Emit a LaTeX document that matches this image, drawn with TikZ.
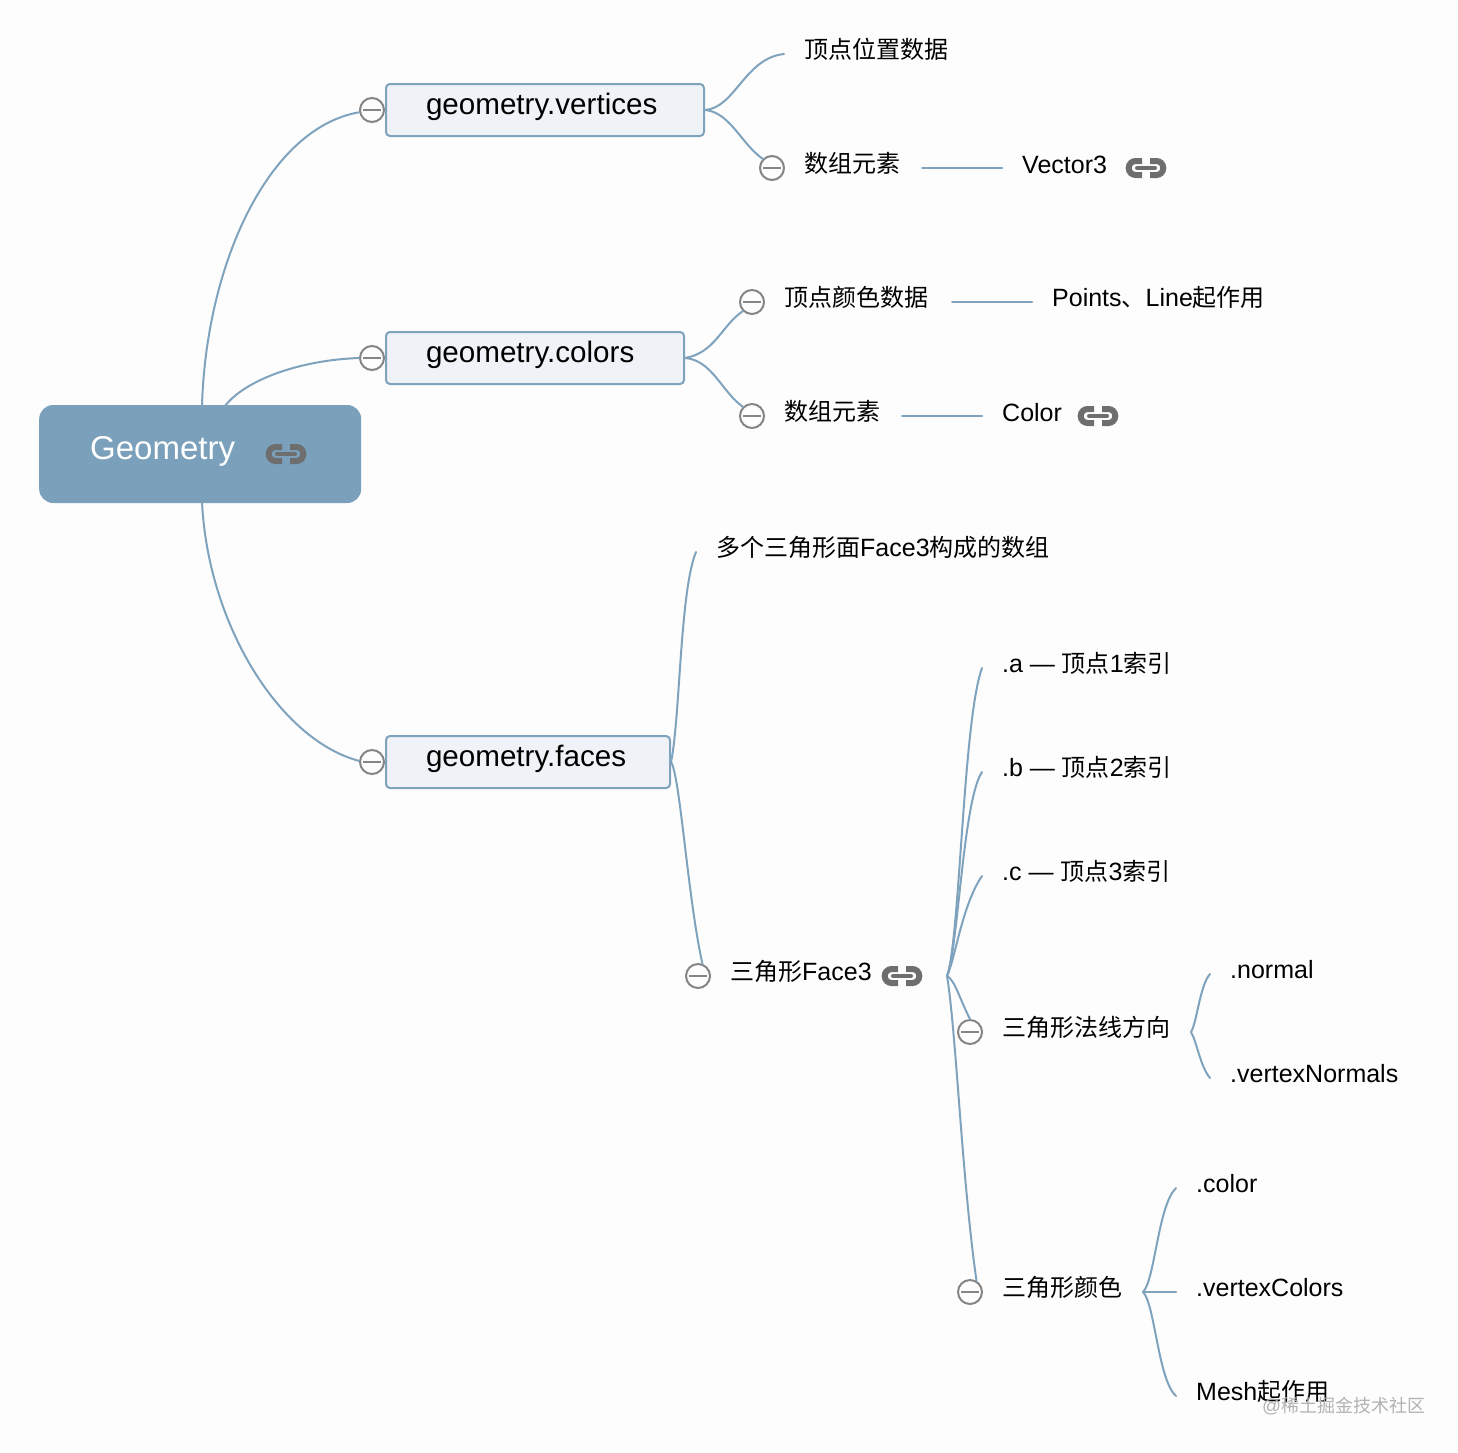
\documentclass[tikz,border=0pt]{standalone}
\usepackage{fontspec}
\setmainfont{Liberation Sans}
\newfontfamily\cjk[Scale=0.96]{Noto Sans CJK SC}
\newcommand{\C}[1]{{\cjk #1}}
\definecolor{edgeblue}{HTML}{7FA3BD}
\definecolor{rootblue}{HTML}{7BA0BB}
\definecolor{boxfill}{HTML}{EFF3F7}
\definecolor{ringgray}{HTML}{858585}
\definecolor{icongray}{HTML}{6E6E6E}
\definecolor{pagebg}{HTML}{FDFDFD}
\tikzset{
  x=1pt,y=-1pt,
  edge/.style={draw=edgeblue,line width=2pt,line cap=round},
  label/.style={anchor=base west,inner sep=0pt,text=black,font=\fontsize{25}{30}\selectfont},
  branch/.style={draw=edgeblue,line width=2pt,fill=boxfill,rounded corners=4pt,anchor=west,
    minimum height=52pt,inner xsep=40pt,inner ysep=0pt,align=left,text height=17pt,text depth=9pt,
    font=\fontsize{29.6}{34}\selectfont},
  rootnode/.style={fill=rootblue,rounded corners=14pt,anchor=west,minimum height=98pt,
    inner xsep=51pt,inner ysep=0pt,align=left,text=white,text height=20pt,text depth=10pt,
    font=\fontsize{33}{38}\selectfont},
  ring/.style={circle,draw=ringgray,line width=2pt,fill=pagebg,minimum size=24pt,inner sep=0pt,
    path picture={\draw[ringgray,line width=2.4pt] ([xshift=-9pt]path picture bounding box.center) -- ([xshift=9pt]path picture bounding box.center);}},
  linkicon/.pic={
    \draw[icongray,line width=6pt,rounded corners=6.9pt] (-4,-7) -- (-17.3,-7) -- (-17.3,7) -- (-4,7);
    \draw[icongray,line width=6pt,rounded corners=6.9pt] (4,-7) -- (17.3,-7) -- (17.3,7) -- (4,7);
    \draw[icongray,line width=4pt,line cap=round] (-9,0) -- (9,0);
  }
}
\begin{document}
\begin{tikzpicture}
\useasboundingbox (0,0) rectangle (1458,1452);
\fill[pagebg] (0,0) rectangle (1458,1452);

% free ends
\coordinate (rv) at (202,406);
\coordinate (rc) at (225,406);
\coordinate (rf) at (202,502);
\coordinate (e11) at (784,54);
\coordinate (e31) at (696,552);
\coordinate (h3) at (947,976);
\coordinate (ea) at (982,668);
\coordinate (eb) at (982,772);
\coordinate (ec) at (982,876);
\coordinate (hn) at (1191,1032);
\coordinate (en) at (1210,974);
\coordinate (ev) at (1210,1078);
\coordinate (hc) at (1143,1292);
\coordinate (ecol) at (1176,1188);
\coordinate (evc) at (1176,1292);
\coordinate (em) at (1176,1396);

% nodes
\node[rootnode,text width=220pt] (root) at (39,454) {Geometry};
\node[branch,text width=238pt] (vert) at (385,110) {geometry.vertices};
\node[branch,text width=218pt] (cols) at (385,358) {geometry.colors};
\node[branch,text width=204pt] (face) at (385,762) {geometry.faces};

\node[ring] (c1) at (372,110) {};
\node[ring] (c2) at (372,358) {};
\node[ring] (c3) at (372,762) {};
\node[ring] (c4) at (772,168) {};
\node[ring] (c5) at (752,302) {};
\node[ring] (c6) at (752,416) {};
\node[ring] (c7) at (698,976) {};
\node[ring] (c8) at (970,1032) {};
\node[ring] (c9) at (970,1292) {};

\node[label] (t1) at (804,58) {\C{顶点位置数据}};
\node[label] (t2) at (804,172) {\C{数组元素}};
\node[label] (t3) at (1022,173) {Vector3};
\node[label] (t4) at (784,306) {\C{顶点颜色数据}};
\node[label] (t5) at (1052,306) {Points\C{、}Line\C{起作用}};
\node[label] (t6) at (784,420) {\C{数组元素}};
\node[label] (t7) at (1002,421) {Color};
\node[label] (t8) at (716,556) {\C{多个三角形面}Face3\C{构成的数组}};
\node[label] (t9) at (1002,672) {.a — \C{顶点}1\C{索引}};
\node[label] (t10) at (1002,776) {.b — \C{顶点}2\C{索引}};
\node[label] (t11) at (1002,880) {.c — \C{顶点}3\C{索引}};
\node[label] (t12) at (730,980) {\C{三角形}Face3};
\node[label] (t13) at (1002,1036) {\C{三角形法线方向}};
\node[label] (t14) at (1230,978) {.normal};
\node[label] (t15) at (1230,1082) {.vertexNormals};
\node[label] (t16) at (1002,1296) {\C{三角形颜色}};
\node[label] (t17) at (1196,1192) {.color};
\node[label] (t18) at (1196,1296) {.vertexColors};
\node[label] (t19) at (1196,1400) {Mesh\C{起作用}};
\node[anchor=base west,inner sep=0pt,text=black!30,font=\fontsize{18.75}{22}\selectfont] (wm) at (1262,1412) {@\C{稀土掘金技术社区}};

\coordinate (l2a) at (922,168);
\coordinate (l2b) at (1002,168);
\coordinate (l4a) at (952,302);
\coordinate (l4b) at (1032,302);
\coordinate (l6a) at (902,416);
\coordinate (l6b) at (982,416);

% icons
\pic at (286,454) {linkicon};
\pic at (1146,168) {linkicon};
\pic at (1098,416) {linkicon};
\pic at (902,976) {linkicon};

% connectors
\draw[edge] (rv) .. controls (206,265) and (268,128) .. (c1.190);
\draw[edge] (rc) .. controls (245,380) and (300,360) .. (c2.west);
\draw[edge] (rf) .. controls (208,625) and (280,740) .. (c3.175);
\draw[edge] (vert.east) .. controls (735,108) and (745,58) .. (e11);
\draw[edge] (vert.east) .. controls (730,112) and (742,145) .. (c4.north west);
\draw[edge] (l2a) -- (l2b);
\draw[edge] (cols.east) .. controls (715,353) and (722,325) .. (c5.south west);
\draw[edge] (cols.east) .. controls (712,360) and (722,392) .. (c6.north west);
\draw[edge] (l4a) -- (l4b);
\draw[edge] (l6a) -- (l6b);
\draw[edge] (face.east) .. controls (680,720) and (680,590) .. (e31);
\draw[edge] (face.east) .. controls (680,775) and (688,900) .. (c7.70);
\draw[edge] (h3) .. controls (960,940) and (963,720) .. (ea);
\draw[edge] (h3) .. controls (958,950) and (963,800) .. (eb);
\draw[edge] (h3) .. controls (955,960) and (962,905) .. (ec);
\draw[edge] (h3) .. controls (955,980) and (960,1000) .. (c8.north);
\draw[edge] (h3) .. controls (956,1030) and (962,1180) .. (c9.60);
\draw[edge] (hn) .. controls (1197,1022) and (1200,985) .. (en);
\draw[edge] (hn) .. controls (1197,1042) and (1200,1066) .. (ev);
\draw[edge] (hc) .. controls (1155,1280) and (1158,1205) .. (ecol);
\draw[edge] (hc) -- (evc);
\draw[edge] (hc) .. controls (1155,1304) and (1158,1380) .. (em);
\end{tikzpicture}
\end{document}
